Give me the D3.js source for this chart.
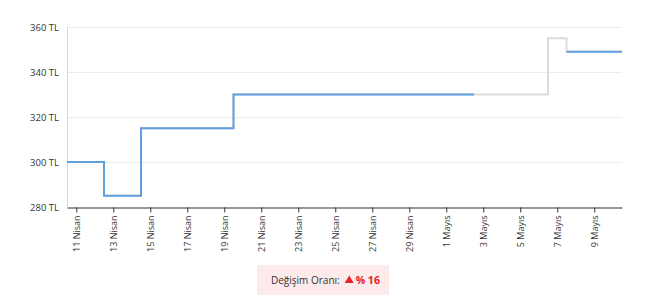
<!DOCTYPE html>
<html>
<head>
<meta charset="utf-8">
<script src="https://cdn.jsdelivr.net/npm/d3@7"></script>
<style>
  body { margin: 0; background: #fff; font-family: "Open Sans", "DejaVu Sans", sans-serif; }
</style>
</head>
<body>
<div id="chart"></div>
<script>
// data: one price per day, null where no observation
var days = ["2024-04-11","2024-04-12","2024-04-13","2024-04-14","2024-04-15","2024-04-16","2024-04-17",
  "2024-04-18","2024-04-19","2024-04-20","2024-04-21","2024-04-22","2024-04-23","2024-04-24","2024-04-25",
  "2024-04-26","2024-04-27","2024-04-28","2024-04-29","2024-04-30","2024-05-01","2024-05-02","2024-05-03",
  "2024-05-04","2024-05-05","2024-05-06","2024-05-07","2024-05-08","2024-05-09","2024-05-10"]
var prices = [300,300,285,285,315,315,315,315,315,330,330,330,330,330,330,
  330,330,330,330,330,330,330,null,null,null,null,null,349,349,349]
// gray background line (incl. missing days)
var pricesAll = [300,300,285,285,315,315,315,315,315,330,330,330,330,330,330,
  330,330,330,330,330,330,330,330,330,330,330,355,349,349,349]
var yTicks = [280, 300, 320, 340, 360]
var months = ["Ocak","Şubat","Mart","Nisan","Mayıs","Haziran","Temmuz","Ağustos","Eylül","Ekim","Kasım","Aralık"]
var changeLabel = "Değişim Oranı:"
var changeText = "% 16"

var W = 650, H = 308
var mLeft = 67, mRight = 622, mTop = 27, mBottom = 207

var parse = d3.timeParse("%Y-%m-%d")
var dates = days.map(parse)
var halfDay = 12 * 3600 * 1000

var svg = d3.select("#chart").append("svg").attr("width", W).attr("height", H)

var x = d3.scaleTime()
  .domain([new Date(dates[0].getTime() - halfDay), new Date(dates[dates.length - 1].getTime() + halfDay)])
  .range([mLeft, mRight])
var y = d3.scaleLinear().domain([280, 360]).range([mBottom, mTop])

// grid
svg.append("g").selectAll("line").data(yTicks.slice(1)).join("line")
  .attr("x1", mLeft).attr("x2", mRight)
  .attr("y1", function(d){ return Math.round(y(d)) + 0.5 }).attr("y2", function(d){ return Math.round(y(d)) + 0.5 })
  .attr("stroke", "#ececec").attr("stroke-width", 1)

// y axis line
svg.append("line").attr("x1", mLeft + 0.5).attr("x2", mLeft + 0.5).attr("y1", mTop).attr("y2", mBottom)
  .attr("stroke", "#d8d8d8")

// y labels
svg.append("g").selectAll("text").data(yTicks).join("text")
  .attr("x", mLeft - 8).attr("y", function(d){ return y(d) + 3.5 })
  .attr("text-anchor", "end")
  .attr("font-size", "9.5px").attr("fill", "#333")
  .text(function(d){ return d + " TL" })

// x axis
var tickDates = dates.filter(function(d, i){ return i % 2 == 0 })
var xAxis = d3.axisBottom(x).tickValues(tickDates).tickSize(5).tickSizeOuter(0)
  .tickFormat(function(d){ return d.getDate() + " " + months[d.getMonth()] })
var gx = svg.append("g").attr("transform", "translate(0," + (mBottom + 0.5) + ")").call(xAxis)
gx.select(".domain").attr("stroke", "#333")
gx.selectAll(".tick line").attr("stroke", "#333")
gx.selectAll(".tick text")
  .attr("font-family", "\"Open Sans\", \"DejaVu Sans\", sans-serif")
  .attr("font-size", "9px").attr("fill", "#333")
  .attr("text-anchor", "end")
  .attr("transform", "rotate(-90)")
  .attr("x", -8).attr("y", 0).attr("dy", "0.35em")

// step line helper: each point covers its day +- half a day
function runs(values) {
  var out = [], cur = []
  values.forEach(function(v, i){
    if (v == null) { if (cur.length) out.push(cur); cur = [] }
    else cur.push({ d: dates[i], v: v })
  })
  if (cur.length) out.push(cur)
  return out.map(function(r){
    var first = r[0], last = r[r.length - 1]
    return [{ d: new Date(first.d.getTime() - halfDay), v: first.v }].concat(r)
      .concat([{ d: new Date(last.d.getTime() + halfDay), v: last.v }])
  })
}

var line = d3.line()
  .x(function(p){ return x(p.d) })
  .y(function(p){ return y(p.v) })
  .curve(d3.curveStep)

svg.append("g").selectAll("path").data(runs(pricesAll)).join("path")
  .attr("d", line).attr("fill", "none")
  .attr("stroke", "#dcdcdc").attr("stroke-width", 2)

svg.append("g").selectAll("path").data(runs(prices)).join("path")
  .attr("d", line).attr("fill", "none")
  .attr("stroke", "#609fe0").attr("stroke-width", 2)

// change box
var box = svg.append("g")
box.append("rect").attr("x", 257).attr("y", 265).attr("width", 132).attr("height", 30)
  .attr("fill", "#fdeaea")
var lbl = box.append("text").attr("x", 271).attr("y", 284)
  .attr("font-size", "10px").attr("fill", "#333").text(changeLabel)
var tx = 271 + lbl.node().getComputedTextLength() + 5
box.append("path").attr("d", "M" + tx + ",283 L" + (tx + 4.5) + ",275.5 L" + (tx + 9) + ",283 Z").attr("fill", "#e8202a")
box.append("text").attr("x", tx + 11).attr("y", 284)
  .attr("font-size", "10.5px").attr("font-weight", "bold").attr("fill", "#e8202a").text(changeText)
</script>
</body>
</html>
